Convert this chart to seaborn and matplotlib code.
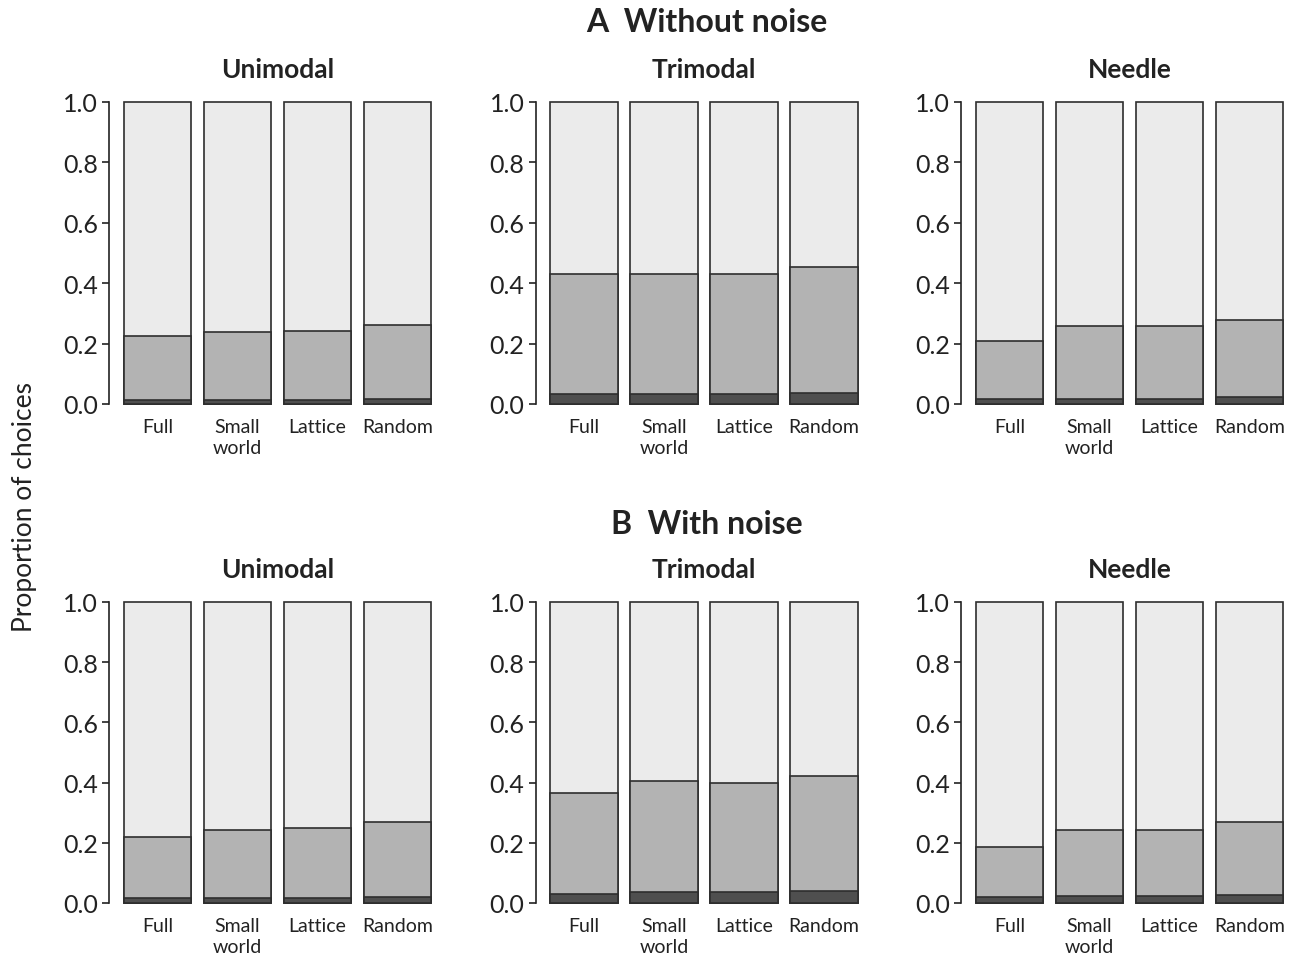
import numpy as np
import pandas as pd
import seaborn as sns
import matplotlib.pyplot as plt

sns.set_style("white")
plt.rcParams['font.family'] = ['Lato', 'DejaVu Sans']

networks = ["Full", "Small\nworld", "Lattice", "Random"]
landscapes = ["Unimodal", "Trimodal", "Needle"]

# Panel A (without noise): dark segment and dark+medium cumulative height
a_dark = {"Unimodal": [0.012, 0.013, 0.014, 0.018],
          "Trimodal": [0.033, 0.033, 0.032, 0.037],
          "Needle":   [0.015, 0.018, 0.018, 0.022]}
a_mid = {"Unimodal": [0.225, 0.238, 0.242, 0.262],
         "Trimodal": [0.430, 0.431, 0.431, 0.454],
         "Needle":   [0.210, 0.258, 0.258, 0.278]}

# Panel B (with noise)
b_dark = {"Unimodal": [0.015, 0.018, 0.018, 0.020],
          "Trimodal": [0.030, 0.035, 0.035, 0.040],
          "Needle":   [0.020, 0.022, 0.022, 0.025]}
b_mid = {"Unimodal": [0.220, 0.243, 0.250, 0.270],
         "Trimodal": [0.365, 0.405, 0.400, 0.422],
         "Needle":   [0.186, 0.243, 0.243, 0.270]}

yticks = [0.0, 0.2, 0.4, 0.6, 0.8, 1.0]

light_c, mid_c, dark_c, edge_c = "#ebebeb", "#b3b3b3", "#4f4f4f", "#2e2e2e"
txt_c = "#222222"

fig = plt.figure(figsize=(13, 9.54), dpi=100)

lefts = [117.5, 544.0, 969.5]
width_px = 320
rows = [(405, 302, a_dark, a_mid), (904, 301, b_dark, b_mid)]

for r, (y0, h, dark, mid) in enumerate(rows):
    for c, land in enumerate(landscapes):
        ax = fig.add_axes([lefts[c] / 1300, (954 - y0) / 954, width_px / 1300, h / 954])
        df = pd.DataFrame({"network": networks,
                           "total": [1.0] * 4,
                           "mid": mid[land],
                           "dark": dark[land]})
        for col, colr in [("total", light_c), ("mid", mid_c), ("dark", dark_c)]:
            sns.barplot(data=df, x="network", y=col, color=colr, ax=ax,
                        width=0.84, edgecolor=edge_c, linewidth=1.2,
                        saturation=1, errorbar=None, order=networks)
        for p in ax.patches:
            p.set_clip_on(False)
        for s in ["top", "right", "bottom"]:
            ax.spines[s].set_visible(False)
        ax.spines["left"].set_position(("outward", 6))
        ax.spines["left"].set_color(txt_c)
        ax.spines["left"].set_linewidth(1.2)
        ax.set_ylim(0, 1)
        ax.set_xlim(-0.5, 3.5)
        ax.set_yticks(yticks)
        ax.set_yticklabels([f"{v:.1f}" for v in yticks])
        ax.set_xticks(range(4))
        ax.set_xticklabels(networks)
        ax.tick_params(axis="x", length=0, pad=10, labelsize=14, labelcolor=txt_c)
        ax.tick_params(axis="y", length=5, width=1.2, color=txt_c, pad=3, left=True,
                       labelsize=18, labelcolor=txt_c)
        for t in ax.get_xticklabels():
            t.set_linespacing(1.3)
        ax.set_xlabel("")
        ax.set_ylabel("")
        ax.set_title(land, fontsize=19, fontweight="bold", pad=18, color=txt_c)

fig.text(707 / 1300, 1 - 22 / 954, "A  Without noise", fontsize=23, fontweight="bold",
         ha="center", va="center", color=txt_c)
fig.text(707 / 1300, 1 - 524 / 954, "B  With noise", fontsize=23, fontweight="bold",
         ha="center", va="center", color=txt_c)
fig.text(25 / 1300, 1 - 507 / 954, "Proportion of choices", fontsize=19, rotation=90,
         ha="center", va="center", color=txt_c)

fig.savefig("out.png", dpi=100)
